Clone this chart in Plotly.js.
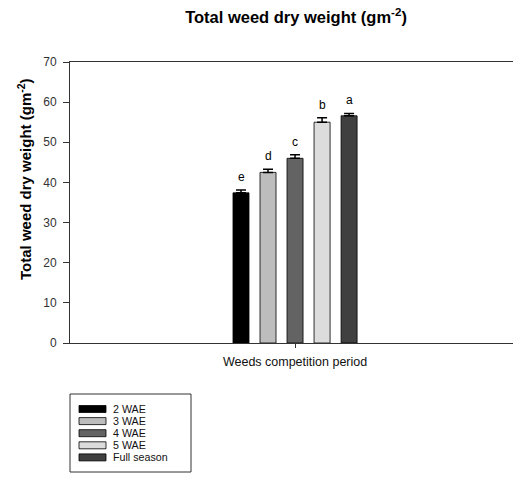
<!DOCTYPE html>
<html><head><meta charset="utf-8">
<script src="https://cdn.plot.ly/plotly-3.0.1.min.js"></script>
<style>html,body{margin:0;padding:0;background:#fff}#c{width:513px;height:477px}</style>
</head><body><div id="c"></div>
<script>
const category = ["Weeds competition period"];
const seriesNames = ["2 WAE", "3 WAE", "4 WAE", "5 WAE", "Full season"];
const seriesValues = [37.4, 42.5, 46.0, 55.0, 56.6];
const seriesErrors = [0.7, 0.8, 0.9, 1.1, 0.6];
const seriesLetters = ["e", "d", "c", "b", "a"];
const seriesColors = ["#000000", "#bdbdbd", "#636363", "#dcdcdc", "#404040"];
const yTicks = [0, 10, 20, 30, 40, 50, 60, 70];
const titleText = "Total weed dry weight (gm<sup>-2</sup>)";
const yTitleText = "Total weed dry weight (gm<sup>-2</sup>)";

const W = 513, H = 477, L = 70, R = 0, T = 62, B = 134;
const PW = W - L - R, PH = H - T - B;
const px = x => (x - L) / PW;
const py = y => (H - B - y) / PH;
const FONT = "Arial, Liberation Sans, sans-serif";

const BARGAP = 0.695, GROUPGAP = 0.407;
const n = seriesNames.length;
const groupW = 1 - BARGAP, slot = groupW / n;

const traces = seriesNames.map((nm, i) => ({
  type: "bar", name: nm, x: category, y: [seriesValues[i]],
  marker: {color: seriesColors[i], line: {color: "#000", width: 0.8}},
  error_y: {type: "data", symmetric: false, array: [seriesErrors[i]], arrayminus: [0],
            color: "#000", thickness: 1.5, width: 5},
  showlegend: false, hoverinfo: "skip"
}));

const annotations = seriesNames.map((nm, i) => ({
  x: -groupW / 2 + slot * (i + 0.5), y: seriesValues[i] + seriesErrors[i],
  xref: "x", yref: "y", text: seriesLetters[i], showarrow: false,
  yanchor: "bottom", yshift: 4, font: {family: FONT, size: 12, color: "#000"}
}));

// y-axis title
annotations.push({xref: "paper", yref: "paper", x: px(24), y: py(179),
  xanchor: "center", yanchor: "middle", textangle: -90, text: yTitleText, showarrow: false,
  font: {family: FONT, size: 15, color: "#000", weight: "bold"}});

// custom legend
const shapes = [{type: "rect", xref: "paper", yref: "paper",
  x0: px(70), x1: px(191), y0: py(394), y1: py(472),
  line: {color: "#333", width: 1}, fillcolor: "#fff"}];
const rowY = [409, 421.1, 433.2, 445.3, 457.4];
seriesNames.forEach((nm, i) => {
  shapes.push({type: "rect", xref: "paper", yref: "paper",
    x0: px(79), x1: px(106), y0: py(rowY[i] - 3.5), y1: py(rowY[i] + 3.5),
    fillcolor: seriesColors[i], line: {color: "#000", width: 0.8}});
  annotations.push({xref: "paper", yref: "paper", x: px(112), y: py(rowY[i]),
    xanchor: "left", yanchor: "middle", text: nm, showarrow: false, borderpad: 0,
    font: {family: FONT, size: 10.7, color: "#111"}});
});

const layout = {
  width: W, height: H, margin: {l: L, r: R, t: T, b: B},
  paper_bgcolor: "#fff", plot_bgcolor: "#fff",
  barmode: "group", bargap: BARGAP, bargroupgap: GROUPGAP,
  title: {text: titleText, xref: "container", yref: "container",
          x: 296 / W, y: 1 - 17 / H, xanchor: "center", yanchor: "middle",
          font: {family: FONT, size: 16.5, color: "#000", weight: "bold"}},
  xaxis: {type: "category", range: [-0.508, 0.492], showline: true, mirror: true,
          linecolor: "#333", linewidth: 1, ticks: "outside", ticklen: 4, tickcolor: "#333",
          ticklabelstandoff: 3,
          tickfont: {family: FONT, size: 12.5, color: "#111"},
          showgrid: false, zeroline: false, fixedrange: true},
  yaxis: {range: [0, 70], tickvals: yTicks, showline: true, linecolor: "#333", linewidth: 1,
          ticks: "outside", ticklen: 6, tickcolor: "#333", showgrid: false, zeroline: false,
          ticklabelstandoff: 4,
          tickfont: {family: FONT, size: 12, color: "#333"}, automargin: false},
  shapes: shapes, annotations: annotations, showlegend: false
};
Plotly.newPlot("c", traces, layout, {displayModeBar: false, staticPlot: true});
</script></body></html>
